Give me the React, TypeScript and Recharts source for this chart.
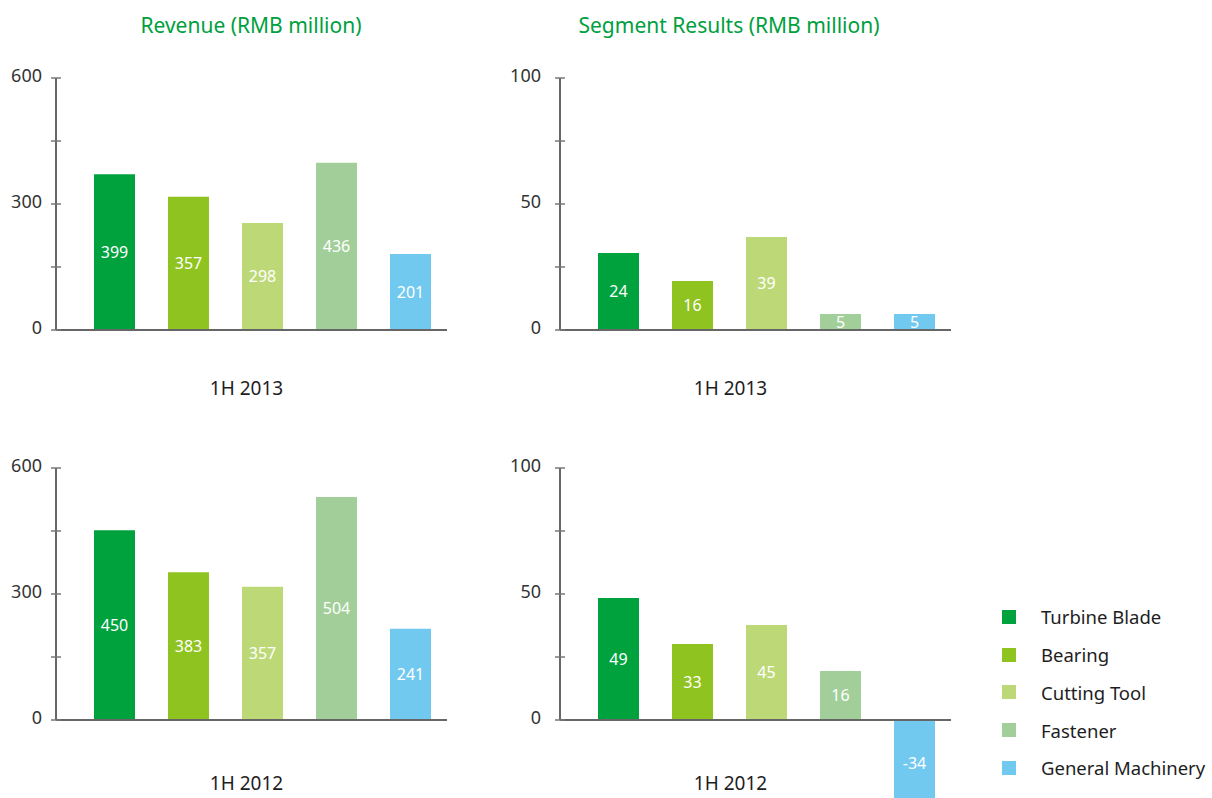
import React from "react";
import { BarChart, Bar, XAxis, YAxis, Cell, LabelList } from "recharts";

const segments = ["Turbine Blade", "Bearing", "Cutting Tool", "Fastener", "General Machinery"];
const segmentColors = ["#00a23e", "#8fc31f", "#bdd977", "#a2cf99", "#72c9f0"];

// bar heights as drawn in the picture, and the figures printed inside them
const revenue2013 = [371, 317, 255, 398, 181];
const revenue2013Labels = ["399", "357", "298", "436", "201"];
const results2013 = [30.6, 19.4, 36.9, 6.3, 6.3];
const results2013Labels = ["24", "16", "39", "5", "5"];
const revenue2012 = [452, 352, 317, 531, 217];
const revenue2012Labels = ["450", "383", "357", "504", "241"];
const results2012 = [48.4, 30.2, 37.7, 19.4, -34];
const results2012Labels = ["49", "33", "45", "16", "-34"];

const revenueTicks = [0, 150, 300, 450, 600];
const revenueTickLabels = [0, 300, 600];
const resultsTicks = [0, 25, 50, 75, 100];
const resultsTickLabels = [0, 50, 100];

const titles = ["Revenue (RMB million)", "Segment Results (RMB million)"];

type ChartProps = {
    left: number;
    top: number;
    width: number;
    yAxisWidth: number;
    values: number[];
    labels: string[];
    ticks: number[];
    tickLabels: number[];
    period: string;
    labelOffset: number;
    labelDx: number;
    tickMargin: number;
};

const SegmentChart = (p: ChartProps) => {
    const rows = segments.map((segment, i) => ({ segment, value: p.values[i], label: p.labels[i] }));
    return (
        <div style={{ position: "absolute", left: p.left, top: p.top }}>
            <BarChart width={p.width} height={410} data={rows} margin={{ top: 78, right: 13, bottom: 0, left: 0 }}>
                <XAxis
                    dataKey="segment"
                    height={80}
                    padding={{ left: 21, right: 0 }}
                    tick={false}
                    tickLine={false}
                    axisLine={{ stroke: "#666", strokeWidth: 2 }}
                    label={{
                        value: p.period,
                        position: "insideBottom",
                        offset: p.labelOffset,
                        dx: p.labelDx,
                        fill: "#1e1e1e",
                        fontSize: 19,
                    }}
                />
                <YAxis
                    width={p.yAxisWidth}
                    domain={[0, p.ticks[p.ticks.length - 1]]}
                    allowDataOverflow
                    ticks={p.ticks}
                    interval={0}
                    tickFormatter={(v: number) => (p.tickLabels.includes(v) ? String(v) : "")}
                    tick={{ fill: "#333", fontSize: 18, dy: -2 }}
                    tickSize={10}
                    tickMargin={p.tickMargin}
                    tickLine={{ stroke: "#777", strokeWidth: 1.5, transform: "translate(5,0)" }}
                    axisLine={{ stroke: "#666", strokeWidth: 2 }}
                />
                <Bar dataKey="value" barSize={41} isAnimationActive={false}>
                    {rows.map((r, i) => (
                        <Cell key={r.segment} fill={segmentColors[i]} />
                    ))}
                    <LabelList dataKey="label" position="center" fill="#ffffff" fontSize={16} />
                </Bar>
            </BarChart>
        </div>
    );
};

export default function App() {
    return (
        <div
            className="unclipped"
            style={{
                position: "absolute",
                left: 0,
                top: 0,
                width: 1212,
                height: 798,
                overflow: "hidden",
                background: "#fff",
                fontFamily: '"Noto Sans", "Open Sans", sans-serif',
            }}
        >
            <style>{".unclipped [clip-path] { clip-path: none; }"}</style>
            {titles.map((t, i) => (
                <div
                    key={t}
                    style={{
                        position: "absolute",
                        left: [251, 729][i] - 200,
                        top: 10,
                        width: 400,
                        textAlign: "center",
                        lineHeight: "30px",
                        fontSize: 21,
                        color: "#00a040",
                    }}
                >
                    {t}
                </div>
            ))}
            <SegmentChart left={0} top={0} width={460} yAxisWidth={56} values={revenue2013} labels={revenue2013Labels}
                ticks={revenueTicks} tickLabels={revenueTickLabels} period="1H 2013" labelOffset={15} labelDx={-5} tickMargin={4} />
            <SegmentChart left={500} top={0} width={464} yAxisWidth={60} values={results2013} labels={results2013Labels}
                ticks={resultsTicks} tickLabels={resultsTickLabels} period="1H 2013" labelOffset={15} labelDx={-25} tickMargin={9} />
            <SegmentChart left={0} top={390} width={460} yAxisWidth={56} values={revenue2012} labels={revenue2012Labels}
                ticks={revenueTicks} tickLabels={revenueTickLabels} period="1H 2012" labelOffset={10} labelDx={-5} tickMargin={4} />
            <SegmentChart left={500} top={390} width={464} yAxisWidth={60} values={results2012} labels={results2012Labels}
                ticks={resultsTicks} tickLabels={resultsTickLabels} period="1H 2012" labelOffset={10} labelDx={-25} tickMargin={9} />
            <div style={{ position: "absolute", left: 1002, top: 598 }}>
                {segments.map((s, i) => (
                    <div key={s} style={{ display: "flex", alignItems: "center", height: 37.75 }}>
                        <span style={{ width: 14, height: 14, background: segmentColors[i], display: "inline-block" }} />
                        <span style={{ marginLeft: 25, fontSize: 18.5, color: "#1e1e1e" }}>{s}</span>
                    </div>
                ))}
            </div>
        </div>
    );
}
